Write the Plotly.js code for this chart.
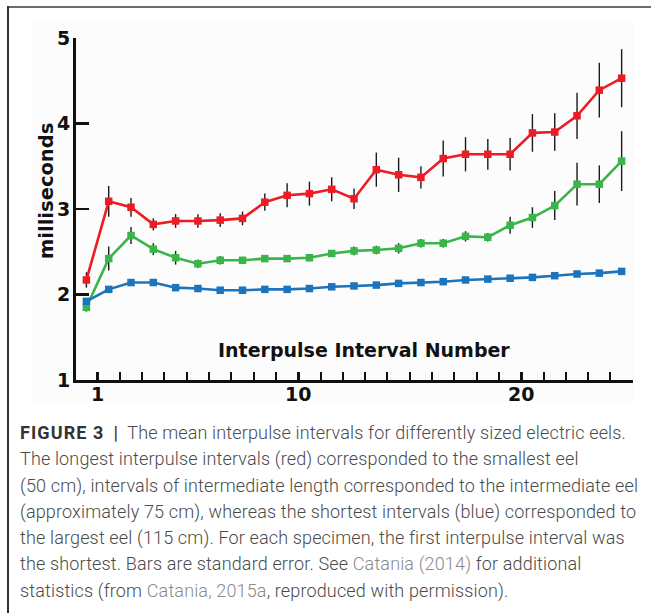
<!DOCTYPE html>
<html>
<head>
<meta charset="utf-8">
<script src="https://cdn.plot.ly/plotly-3.0.1.min.js"></script>
<style>
  html, body { margin: 0; padding: 0; background: #ffffff; }
  #wrap { position: relative; width: 651px; height: 613px; overflow: hidden; background: #ffffff; }
  #frameTop { position: absolute; left: 8px; top: 6px; width: 643px; height: 2px; background: #6d6d6d; }
  #frameLeft { position: absolute; left: 7px; top: 6px; width: 2px; height: 607px; background: #333333; }
  #panel { position: absolute; left: 33px; top: 22px; width: 601px; height: 380px; background: #fcfcfc; }
  #chart { position: absolute; left: 0; top: 0; width: 651px; height: 613px; }
  #caption { position: absolute; left: 20px; top: 420px; font-family: Roboto, "Liberation Sans", sans-serif; font-weight: 300; font-size: 18px; letter-spacing: 0.15px; line-height: 26.3px; color: #4a4a4a; }
  #caption div { white-space: nowrap; }
  #caption b { font-weight: 700; color: #333; letter-spacing: 1.1px; }
  #caption .sep { font-weight: 700; color: #444; margin: 0 9px 0 9px; }
  #caption .lk { color: #8a8a8a; }
</style>
</head>
<body>
<div id="wrap">
  <div id="frameTop"></div>
  <div id="frameLeft"></div>
  <div id="panel"></div>
  <div id="chart"></div>
  <div id="caption">
    <div><b>FIGURE 3</b><span class="sep">|</span>The mean interpulse intervals for differently sized electric eels.</div>
    <div>The longest interpulse intervals (red) corresponded to the smallest eel</div>
    <div>(50 cm), intervals of intermediate length corresponded to the intermediate eel</div>
    <div>(approximately 75 cm), whereas the shortest intervals (blue) corresponded to</div>
    <div>the largest eel (115 cm). For each specimen, the first interpulse interval was</div>
    <div>the shortest. Bars are standard error. See <span class="lk">Catania (2014)</span> for additional</div>
    <div>statistics (from <span class="lk">Catania, 2015a</span>, reproduced with permission).</div>
  </div>
</div>
<script>
// Interpulse interval number
const intervals = [1,2,3,4,5,6,7,8,9,10,11,12,13,14,15,16,17,18,19,20,21,22,23,24,25];

// Smallest eel (50 cm) - red
const smallMean = [2.17,3.09,3.02,2.82,2.86,2.86,2.87,2.89,3.08,3.16,3.18,3.23,3.12,3.46,3.40,3.37,3.59,3.64,3.64,3.64,3.89,3.90,4.09,4.39,4.53];
const smallSE   = [0.09,0.18,0.11,0.07,0.08,0.08,0.08,0.08,0.10,0.14,0.14,0.14,0.12,0.20,0.20,0.13,0.21,0.20,0.18,0.19,0.22,0.22,0.27,0.32,0.34];

// Intermediate eel (~75 cm) - green
const midMean = [1.85,2.42,2.69,2.53,2.43,2.36,2.40,2.40,2.42,2.42,2.43,2.48,2.51,2.52,2.54,2.60,2.60,2.68,2.67,2.81,2.90,3.04,3.29,3.29,3.56];
const midSE   = [0.05,0.14,0.10,0.07,0.08,0.05,0.05,0.04,0.04,0.04,0.04,0.04,0.05,0.05,0.06,0.05,0.05,0.06,0.05,0.10,0.12,0.17,0.25,0.22,0.35];

// Largest eel (115 cm) - blue
const largeMean = [1.92,2.06,2.14,2.14,2.08,2.07,2.05,2.05,2.06,2.06,2.07,2.09,2.10,2.11,2.13,2.14,2.15,2.17,2.18,2.19,2.20,2.22,2.24,2.25,2.27];
const largeSE   = [0.03,0.02,0.02,0.02,0.02,0.02,0.02,0.02,0.02,0.02,0.02,0.02,0.02,0.02,0.02,0.02,0.02,0.02,0.02,0.02,0.02,0.02,0.02,0.02,0.02];

// Tick labels
const xTickLabels = ['1','10','20'];
const xTickNumbers = [1,10,20];
const yTickValues = [1,2,3,4,5];

const series = [
  {name: 'Smallest eel (50 cm)', mean: smallMean, se: smallSE, color: '#ec1c24'},
  {name: 'Intermediate eel (~75 cm)', mean: midMean, se: midSE, color: '#39b54a'},
  {name: 'Largest eel (115 cm)', mean: largeMean, se: largeSE, color: '#1c75bc'}
];

const traces = series.map(s => ({
  type: 'scatter',
  mode: 'lines+markers',
  name: s.name,
  x: intervals,
  y: s.mean,
  line: {color: s.color, width: 2.6},
  marker: {symbol: 'square', size: 7.5, color: s.color},
  error_y: {type: 'data', array: s.se, visible: true, color: '#1a1a1a', thickness: 1.4, width: 0},
  showlegend: false,
  cliponaxis: false
}));

const tickFont = {family: '"DejaVu Sans", "Liberation Sans", sans-serif', size: 19, color: '#111', weight: 'bold'};

const layout = {
  width: 651,
  height: 613,
  margin: {l: 76, r: 18, t: 38, b: 233, pad: 0},
  paper_bgcolor: 'rgba(0,0,0,0)',
  plot_bgcolor: 'rgba(0,0,0,0)',
  showlegend: false,
  xaxis: {
    range: [0.533, 25.51],
    tickmode: 'array',
    tickvals: xTickNumbers.map(n => n + 0.5),
    ticktext: xTickLabels,
    ticks: 'inside',
    ticklen: 8,
    tickwidth: 3,
    tickcolor: '#111',
    showline: true,
    linecolor: '#111',
    linewidth: 3,
    showgrid: false,
    zeroline: false,
    tickfont: tickFont,
    ticklabelstandoff: -5,
    minor: {
      tickmode: 'array',
      tickvals: intervals.map(n => n + 0.5),
      ticks: 'inside',
      ticklen: 8,
      tickwidth: 2,
      tickcolor: '#111',
      showgrid: false
    }
  },
  yaxis: {
    range: [1, 5],
    tickmode: 'array',
    tickvals: yTickValues,
    ticktext: yTickValues.map(String),
    ticks: 'inside',
    ticklen: 13,
    tickwidth: 2.6,
    tickcolor: '#111',
    showline: true,
    linecolor: '#111',
    linewidth: 3,
    showgrid: false,
    zeroline: false,
    tickfont: tickFont,
    ticklabelstandoff: -1
  },
  annotations: [
    {
      text: 'milliseconds',
      xref: 'paper', yref: 'paper',
      x: (47 - 76) / (651 - 76 - 18), y: (380 - 191) / (613 - 38 - 233),
      xanchor: 'center', yanchor: 'middle',
      textangle: -90,
      showarrow: false,
      font: {family: '"DejaVu Sans", sans-serif', size: 19.5, color: '#111', weight: 'bold'}
    },
    {
      text: 'Interpulse Interval Number',
      xref: 'paper', yref: 'paper',
      x: (364 - 76) / (651 - 76 - 18), y: (380 - 350) / (613 - 38 - 233),
      xanchor: 'center', yanchor: 'middle',
      showarrow: false,
      font: {family: '"DejaVu Sans", sans-serif', size: 19, color: '#111', weight: 'bold'}
    }
  ]
};

Plotly.newPlot('chart', traces, layout, {displayModeBar: false, staticPlot: true});
</script>
</body>
</html>
